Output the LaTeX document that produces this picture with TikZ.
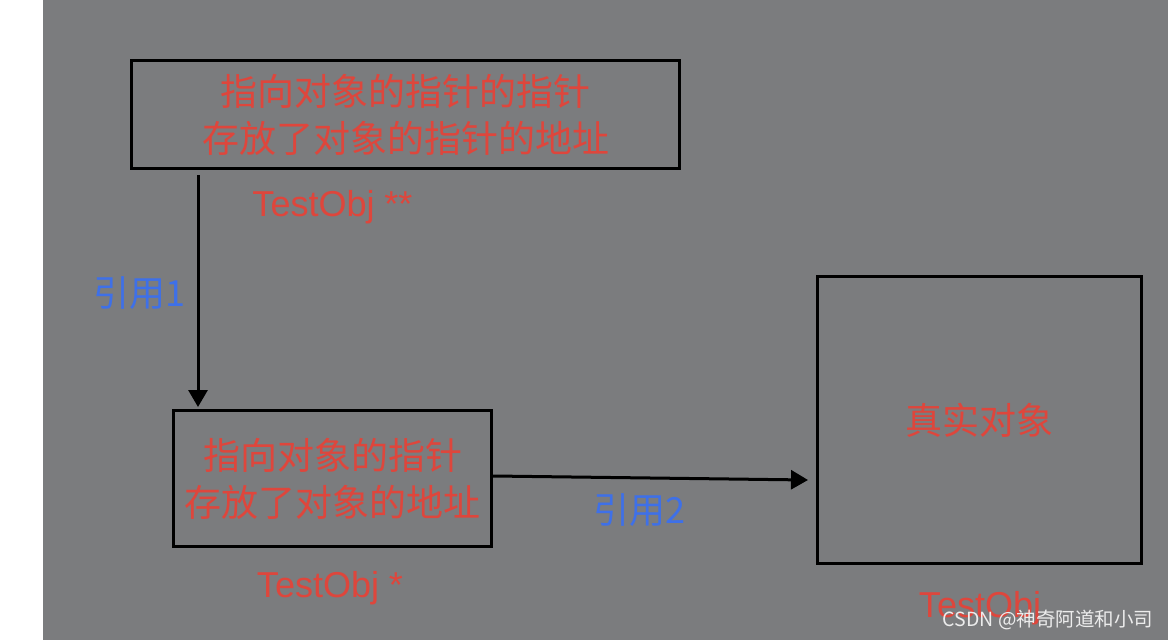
\documentclass[tikz,border=0pt]{standalone}
\usepackage{fontspec}
\setmainfont{Liberation Sans}
\newfontfamily\cjk{Noto Sans CJK SC}
\usetikzlibrary{
  arrows.meta,
  calc,
}
\definecolor{bggrey}{RGB}{123,124,126}
\definecolor{txtred}{RGB}{222,70,60}
\definecolor{refblue}{RGB}{62,112,232}
\definecolor{markgrey}{RGB}{236,236,236}

\tikzset{
  box/.style={draw=black,line width=3pt,inner sep=0pt,align=center,
    font=\cjk\fontsize{37}{47}\selectfont,text=txtred},
  typelbl/.style={anchor=base,text=txtred,font=\fontsize{36}{40}\selectfont},
  reflbl/.style={text=refblue,font=\cjk\fontsize{36}{40}\selectfont},
  ptrarrow/.style={line width=3pt,-{Triangle[length=17pt,width=19pt]}},
}

\begin{document}
\begin{tikzpicture}[x=1pt,y=-1pt]
  \useasboundingbox (0,0) rectangle (1168,640);
  \fill[white] (0,0) rectangle (43,640);
  \fill[bggrey] (43,0) rectangle (1168,640);

  \node[box,minimum width=548pt,minimum height=108pt] (ptrptr) at (405.5,114.5)
    {指向对象的指针的指针\\存放了对象的指针的地址};
  \node[box,minimum width=318pt,minimum height=136pt] (ptr) at (332.5,478.5)
    {指向对象的指针\\存放了对象的地址};
  \node[box,minimum width=324pt,minimum height=287pt] (obj) at (979.5,420)
    {真实对象};

  % type names under the boxes
  \foreach \n/\x/\y/\t in {lptrptr/332.5/216/TestObj **,lptr/330/597/TestObj *,lobj/980/617/TestObj}{
      \node[typelbl] (\n) at (\x,\y) {\t};
    }

  \coordinate (a1) at (198,175);
  \coordinate (tip2) at (808,480);
  \draw[ptrarrow,shorten >=2pt] (a1) -- (a1 |- ptr.north);
  \draw[ptrarrow] ([yshift=2.5pt]ptr.east) -- (tip2);

  \node[reflbl] (ref1) at (139,293) {引用1};
  \node[reflbl] (ref2) at (639,510) {引用2};

  \node[text=markgrey,font=\cjk\fontsize{19.5}{22}\selectfont] (mark) at (1048,620) {CSDN @神奇阿道和小司};
\end{tikzpicture}
\end{document}
